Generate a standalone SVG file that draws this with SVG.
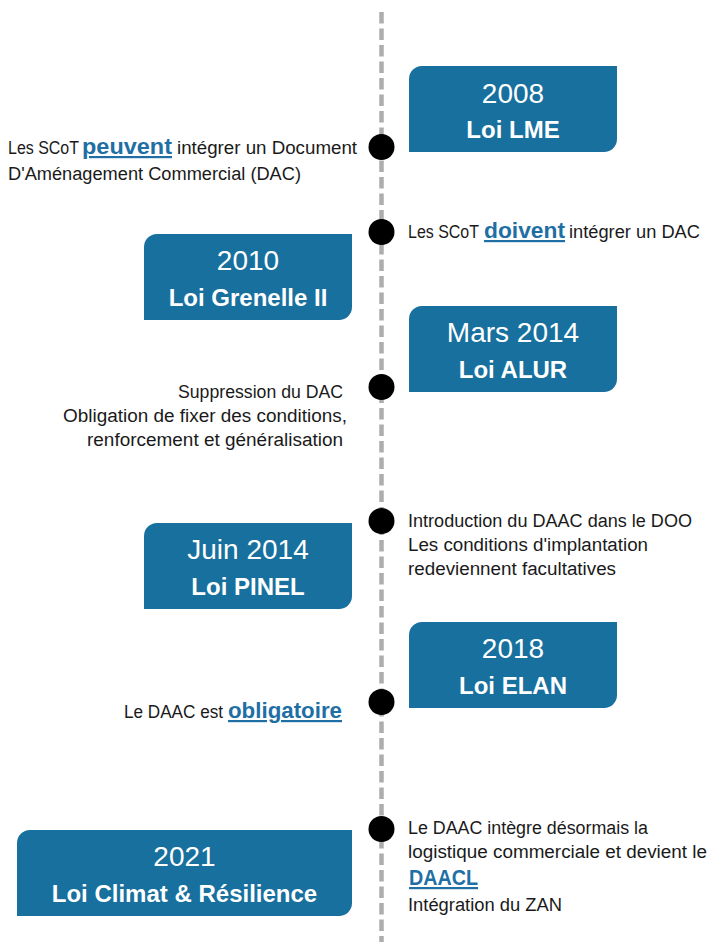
<svg xmlns="http://www.w3.org/2000/svg" width="707" height="942" viewBox="0 0 707 942">
<style>
.box{fill:#17709D}
.yr{font-family:"Liberation Sans",Arial,sans-serif;font-size:28px;fill:#fff;text-anchor:middle}
.law{font-family:"Liberation Sans",Arial,sans-serif;font-size:24px;font-weight:bold;fill:#fff;text-anchor:middle}
.t{font-family:"Liberation Sans",Arial,sans-serif;font-size:18px;fill:#1a1a1a}
.em{font-family:"Liberation Sans",Arial,sans-serif;font-size:22px;font-weight:bold;fill:#1F6FA5;text-decoration:underline}
.dot{fill:#000}
.line{stroke:#ADADAD;stroke-width:4.5;stroke-dasharray:11.5 5;fill:none}
</style>
<rect width="707" height="942" fill="#fff"/>
<g id="connectors">
<line class="line" x1="381.5" y1="12" x2="381.5" y2="942"/>
</g>
<g id="dots">
<circle class="dot" cx="381.5" cy="147" r="13"/>
<circle class="dot" cx="381.5" cy="232" r="13"/>
<circle class="dot" cx="381.5" cy="387" r="13"/>
<circle class="dot" cx="381.5" cy="521" r="13"/>
<circle class="dot" cx="381.5" cy="702" r="13"/>
<circle class="dot" cx="381.5" cy="829" r="13"/>
</g>
<g id="box2008">
<path class="box" d="M409,79 A13,13 0 0 1 422,66 H617 V139 A13,13 0 0 1 604,152 H409 Z"/>
<text class="yr" x="513" y="103">2008</text>
<text class="law" x="513" y="138">Loi LME</text>
</g>
<g id="box2010">
<path class="box" d="M144,247 A13,13 0 0 1 157,234 H352 V307 A13,13 0 0 1 339,320 H144 Z"/>
<text class="yr" x="248" y="270">2010</text>
<text class="law" x="248" y="306">Loi Grenelle II</text>
</g>
<g id="box2014a">
<path class="box" d="M409,319 A13,13 0 0 1 422,306 H617 V379 A13,13 0 0 1 604,392 H409 Z"/>
<text class="yr" x="513" y="342">Mars 2014</text>
<text class="law" x="513" y="378">Loi ALUR</text>
</g>
<g id="box2014b">
<path class="box" d="M144,536 A13,13 0 0 1 157,523 H352 V596 A13,13 0 0 1 339,609 H144 Z"/>
<text class="yr" x="248" y="559">Juin 2014</text>
<text class="law" x="248" y="595">Loi PINEL</text>
</g>
<g id="box2018">
<path class="box" d="M409,635 A13,13 0 0 1 422,622 H617 V695 A13,13 0 0 1 604,708 H409 Z"/>
<text class="yr" x="513" y="658">2018</text>
<text class="law" x="513" y="694">Loi ELAN</text>
</g>
<g id="box2021">
<path class="box" d="M17,843 A13,13 0 0 1 30,830 H352 V903 A13,13 0 0 1 339,916 H17 Z"/>
<text class="yr" x="184.5" y="866">2021</text>
<text class="law" x="184.5" y="902">Loi Climat &amp; Résilience</text>
</g>
<g id="note2008">
<text class="t" x="8" y="154" textLength="71" lengthAdjust="spacingAndGlyphs">Les SCoT</text>
<text class="em" x="82" y="154" textLength="90" lengthAdjust="spacingAndGlyphs">peuvent</text>
<text class="t" x="177" y="154" textLength="180" lengthAdjust="spacingAndGlyphs">intégrer un Document</text>
<text class="t" x="8" y="180" textLength="293" lengthAdjust="spacingAndGlyphs">D'Aménagement Commercial (DAC)</text>
</g>
<g id="note2010">
<text class="t" x="408" y="238" textLength="71" lengthAdjust="spacingAndGlyphs">Les SCoT</text>
<text class="em" x="484" y="238" textLength="81" lengthAdjust="spacingAndGlyphs">doivent</text>
<text class="t" x="569" y="238" textLength="131" lengthAdjust="spacingAndGlyphs">intégrer un DAC</text>
</g>
<g id="noteALUR">
<text class="t" x="343" y="398" text-anchor="end" textLength="165" lengthAdjust="spacingAndGlyphs">Suppression du DAC</text>
<text class="t" x="347" y="422" text-anchor="end" textLength="284" lengthAdjust="spacingAndGlyphs">Obligation de fixer des conditions,</text>
<text class="t" x="343" y="446" text-anchor="end" textLength="256" lengthAdjust="spacingAndGlyphs">renforcement et généralisation</text>
</g>
<g id="notePINEL">
<text class="t" x="408" y="527" textLength="284" lengthAdjust="spacingAndGlyphs">Introduction du DAAC dans le DOO</text>
<text class="t" x="408" y="551" textLength="240" lengthAdjust="spacingAndGlyphs">Les conditions d'implantation</text>
<text class="t" x="408" y="575" textLength="208" lengthAdjust="spacingAndGlyphs">redeviennent facultatives</text>
</g>
<g id="noteELAN">
<text class="t" x="124" y="718" textLength="99" lengthAdjust="spacingAndGlyphs">Le DAAC est</text>
<text class="em" x="228" y="718" textLength="114" lengthAdjust="spacingAndGlyphs">obligatoire</text>
</g>
<g id="noteClimat">
<text class="t" x="408" y="834" textLength="240" lengthAdjust="spacingAndGlyphs">Le DAAC intègre désormais la</text>
<text class="t" x="408" y="858" textLength="299" lengthAdjust="spacingAndGlyphs">logistique commerciale et devient le</text>
<text class="em" x="409" y="885" textLength="69" lengthAdjust="spacingAndGlyphs">DAACL</text>
<text class="t" x="408" y="911" textLength="154" lengthAdjust="spacingAndGlyphs">Intégration du ZAN</text>
</g>
</svg>
